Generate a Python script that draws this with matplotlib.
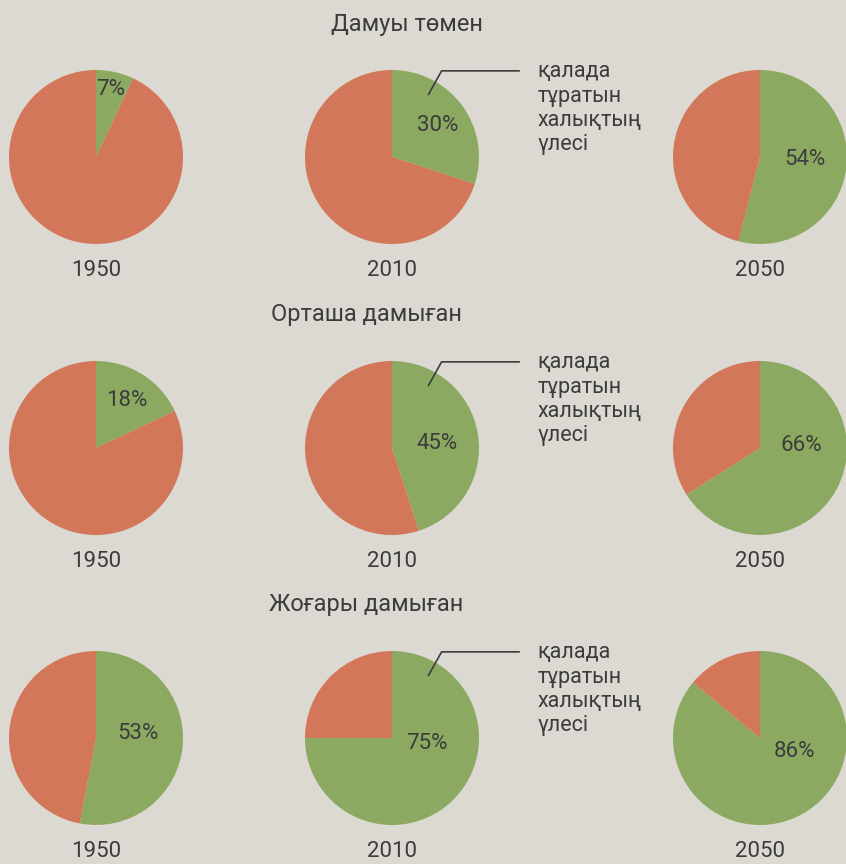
import matplotlib.pyplot as plt

plt.rcParams['font.family'] = ['Roboto', 'DejaVu Sans']

# urban share of population, %, per development group
groups = ["Дамуы төмен", "Орташа дамыған", "Жоғары дамыған"]
years = ["1950", "2010", "2050"]
urban_low = [7, 30, 54]
urban_mid = [18, 45, 66]
urban_high = [53, 75, 86]
callout = "қалада\nтұратын\nхалықтың\nүлесі"

GREEN = "#8ca962"
ORANGE = "#d27759"
BG = "#dcd9d2"
INK = "#3c3c3c"

W, H = 846, 864
R = 87
col_x = [96, 392, 760]
row_y = [157, 448, 738]
title_x = [407, 366, 366]
# where each percentage label sits, in pie-radius units from the centre
pct_pos = [
    [(0.17, 0.78), (0.52, 0.36), (0.52, -0.03)],
    [(0.36, 0.55), (0.52, 0.05), (0.48, 0.03)],
    [(0.48, 0.05), (0.40, -0.06), (0.40, -0.15)],
]

fig = plt.figure(figsize=(W / 100, H / 100), dpi=100)
fig.patch.set_facecolor(BG)

for r, values in enumerate([urban_low, urban_mid, urban_high]):
    cy = row_y[r]
    fig.text(title_x[r] / W, 1 - (cy - 133) / H, groups[r], ha='center', va='center',
             fontsize=17, color=INK)
    for c, urban in enumerate(values):
        cx = col_x[c]
        ax = fig.add_axes([(cx - R) / W, (H - cy - R) / H, 2 * R / W, 2 * R / H])
        ax.pie([urban, 100 - urban], colors=[GREEN, ORANGE], startangle=90,
               counterclock=False, radius=1, wedgeprops={'linewidth': 0})
        ax.set_xlim(-1, 1)
        ax.set_ylim(-1, 1)
        ax.set_aspect('equal')
        ax.axis('off')
        px, py = pct_pos[r][c]
        ax.text(px, py, f"{urban}%", ha='center', va='center', fontsize=16,
                color=INK)
        ax.text(0, -1.30, years[c], ha='center', va='center', fontsize=16,
                color=INK, clip_on=False)
        if c == 1:
            ax.plot([0.42, 0.57, 1.46], [0.72, 0.99, 0.99], color=INK, lw=1.2,
                    clip_on=False)
            ax.text(1.67, 1.10, callout, ha='left', va='top', fontsize=15.5,
                    color=INK, linespacing=1.2, clip_on=False)

fig.savefig("out.png", dpi=100, facecolor=BG)
